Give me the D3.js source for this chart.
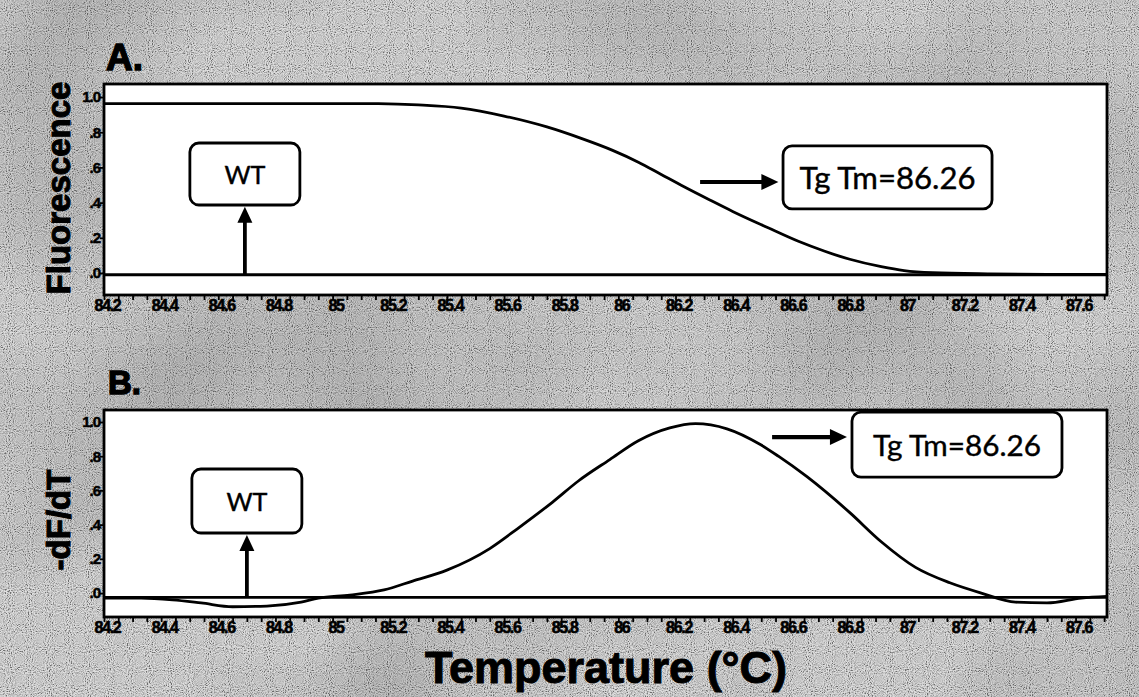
<!DOCTYPE html>
<html>
<head>
<meta charset="utf-8">
<script src="https://cdn.jsdelivr.net/npm/d3@7"></script>
<style>
  html, body { margin: 0; padding: 0; background: #c4c4c4; }
  svg { display: block; }
</style>
</head>
<body>
<svg id="chart" width="1139" height="697"></svg>
<script>
// ---- Melt curve data ----
// Panel A: normalised fluorescence vs temperature
const tempA = [84.2, 84.6, 85.0, 85.16, 85.3, 85.45, 85.6, 85.75, 85.87, 85.98, 86.07, 86.15, 86.23, 86.32, 86.4, 86.52, 86.63, 86.72, 86.81, 86.92, 87.0, 87.1, 87.3, 87.5, 87.71];
const fluorTg = [0.963, 0.963, 0.963, 0.962, 0.955, 0.937, 0.892, 0.83, 0.765, 0.697, 0.63, 0.56, 0.49, 0.415, 0.35, 0.26, 0.18, 0.125, 0.078, 0.036, 0.014, 0.002, -0.005, -0.008, -0.008];
const fluorWT = [-0.01, -0.01, -0.01, -0.01, -0.01, -0.01, -0.01, -0.01, -0.01, -0.01, -0.01, -0.01, -0.01, -0.01, -0.01, -0.01, -0.01, -0.01, -0.01, -0.01, -0.01, -0.01, -0.01, -0.01, -0.01];

// Panel B: negative derivative -dF/dT vs temperature
const tempB = [84.2, 84.33, 84.44, 84.54, 84.65, 84.77, 84.89, 84.95, 85.06, 85.18, 85.28, 85.4, 85.55, 85.65, 85.77, 85.86, 85.97, 86.07, 86.18, 86.27, 86.38, 86.5, 86.56, 86.66, 86.81, 86.92, 87.04, 87.16, 87.27, 87.39, 87.5, 87.62, 87.71];
const derivTg = [-0.03, -0.03, -0.04, -0.058, -0.08, -0.076, -0.053, -0.03, -0.012, 0.018, 0.07, 0.134, 0.26, 0.38, 0.532, 0.655, 0.78, 0.89, 0.965, 0.99, 0.96, 0.865, 0.8, 0.68, 0.47, 0.3, 0.15, 0.06, 0.0, -0.053, -0.058, -0.03, -0.02];
const derivWT = [-0.025, -0.025, -0.025, -0.025, -0.025, -0.025, -0.025, -0.025, -0.025, -0.025, -0.025, -0.025, -0.025, -0.025, -0.025, -0.025, -0.025, -0.025, -0.025, -0.025, -0.025, -0.025, -0.025, -0.025, -0.025, -0.025, -0.025, -0.025, -0.025, -0.025, -0.025, -0.025, -0.025];

// Axis ticks
const xTickLabels = ["84.2", "84.4", "84.6", "84.8", "85", "85.2", "85.4", "85.6", "85.8", "86", "86.2", "86.4", "86.6", "86.8", "87", "87.2", "87.4", "87.6"];
const yTickValues = [0, 0.2, 0.4, 0.6, 0.8, 1.0];
const yTickLabels = [".0", ".2", ".4", ".6", ".8", "1.0"];

// Annotation text
const wtLabel = "WT";
const tgLabel = "Tg Tm=86.26";
const xTitle = "Temperature (°C)";

const svg = d3.select("#chart");
const W = 1139, H = 697;

// ---- grainy grey backdrop ----
const defs = svg.append("defs");
const grain = defs.append("filter").attr("id", "grain").attr("x", 0).attr("y", 0).attr("width", "100%").attr("height", "100%");
grain.append("feTurbulence").attr("type", "fractalNoise").attr("baseFrequency", 0.95).attr("numOctaves", 1).attr("seed", 7).attr("result", "n");
grain.append("feColorMatrix").attr("type", "saturate").attr("values", 0).attr("in", "n").attr("result", "g");
const ct = grain.append("feComponentTransfer").attr("in", "g");
["feFuncR", "feFuncG", "feFuncB"].forEach(f =>
  ct.append(f).attr("type", "linear").attr("slope", 3.6).attr("intercept", -1.25));
ct.append("feFuncA").attr("type", "linear").attr("slope", 0).attr("intercept", 1);

const patch = defs.append("filter").attr("id", "patch").attr("x", 0).attr("y", 0).attr("width", "100%").attr("height", "100%");
patch.append("feTurbulence").attr("type", "fractalNoise").attr("baseFrequency", 0.004).attr("numOctaves", 2).attr("seed", 11).attr("result", "p");
patch.append("feColorMatrix").attr("type", "matrix").attr("in", "p")
  .attr("values", "0 0 0 0 0  0 0 0 0 0  0 0 0 0 0  1.0 0 0 0 -0.4");

svg.append("rect").attr("width", W).attr("height", H).attr("fill", "#c9c9c9");
svg.append("rect").attr("width", W).attr("height", H).attr("filter", "url(#grain)").attr("opacity", 0.45);
svg.append("rect").attr("width", W).attr("height", H).attr("filter", "url(#patch)").attr("opacity", 0.3);

// ---- shared x scale ----
const x = d3.scaleLinear().domain([84.2, 87.71]).range([104, 1107]);

const panels = [
  {
    id: "A", letter: "A.", letterX: 106, letterY: 70, letterSize: 37,
    top: 84, bottom: 295, yDomain: [-0.125, 1.074],
    temps: tempA, tg: fluorTg, wt: fluorWT,
    yTitle: "Fluorescence", yTitleY: 188,
    wtBox: { t: 84.693, v: 0.5625, w: 110, h: 62 },
    wtArrow: { t: 84.693, from: -0.01, to: 0.376 },
    tgBox: { t: 86.942, v: 0.543, w: 209, h: 63 },
    tgArrow: { from: 86.286, to: 86.56, v: 0.517 }
  },
  {
    id: "B", letter: "B.", letterX: 108, letterY: 394, letterSize: 33,
    top: 410, bottom: 617, yDomain: [-0.14, 1.07],
    temps: tempB, tg: derivTg, wt: derivWT,
    yTitle: "-dF/dT", yTitleY: 520,
    wtBox: { t: 84.70, v: 0.538, w: 110, h: 64 },
    wtArrow: { t: 84.70, from: -0.025, to: 0.34 },
    tgBox: { t: 87.185, v: 0.868, w: 210, h: 65 },
    tgArrow: { from: 86.538, to: 86.80, v: 0.912 }
  }
];

// fits text to a given width by adjusting the font size
function fitText(sel, width) {
  const len = sel.node().getComputedTextLength();
  const fs = parseFloat(sel.attr("font-size"));
  sel.attr("font-size", fs * width / len);
}

function arrowPath(x1, y1, x2, y2, headLen, headW) {
  const dx = x2 - x1, dy = y2 - y1, L = Math.hypot(dx, dy);
  const ux = dx / L, uy = dy / L, px = -uy, py = ux;
  const bx = x2 - ux * headLen, by = y2 - uy * headLen;
  return `M${bx + px * headW / 2},${by + py * headW / 2}L${x2},${y2}L${bx - px * headW / 2},${by - py * headW / 2}Z`;
}

const sansBold = "Liberation Sans, Arial, sans-serif";

panels.forEach(p => {
  const y = d3.scaleLinear().domain(p.yDomain).range([p.bottom, p.top]);
  const g = svg.append("g");

  // panel letter
  g.append("text").attr("x", p.letterX).attr("y", p.letterY)
    .attr("font-family", sansBold).attr("font-weight", "bold")
    .attr("font-size", p.letterSize).attr("fill", "#000").attr("stroke", "#000").attr("stroke-width", 1.4)
    .text(p.letter);

  // plot area
  g.append("rect").attr("x", x.range()[0]).attr("y", p.top)
    .attr("width", x.range()[1] - x.range()[0]).attr("height", p.bottom - p.top)
    .attr("fill", "#fff").attr("stroke", "#000").attr("stroke-width", 2.8);

  // x axis: ticks every 0.05, labels every 0.2
  const xAxis = d3.axisBottom(x)
    .tickValues(d3.range(84.2, 87.701, 0.05).map(v => +v.toFixed(2)))
    .tickSize(5).tickSizeOuter(0)
    .tickFormat(() => "");
  const xa = g.append("g").attr("transform", `translate(0,${p.bottom})`).call(xAxis);
  xa.select(".domain").remove();
  xa.selectAll("line").attr("stroke", "#000").attr("stroke-width", 1.8);

  const xLab = d3.axisBottom(x)
    .tickValues(xTickLabels.map(Number)).tickSize(0)
    .tickFormat((d, i) => xTickLabels[i]);
  const xl = g.append("g").attr("transform", `translate(3,${p.bottom - 1})`).call(xLab);
  xl.select(".domain").remove();
  xl.selectAll("text").attr("font-family", sansBold)
    .attr("font-weight", "bold").attr("font-size", 16).attr("letter-spacing", -1.3)
    .attr("fill", "#000").attr("stroke", "#000").attr("stroke-width", 0.6).attr("dy", "0.9em");

  // y axis
  const yAxis = d3.axisLeft(y).tickValues(yTickValues).tickSize(4).tickSizeOuter(0)
    .tickFormat((d, i) => yTickLabels[i]);
  const ya = g.append("g").attr("transform", `translate(${x.range()[0]},0)`).call(yAxis);
  ya.select(".domain").remove();
  ya.selectAll("line").attr("stroke", "#000").attr("stroke-width", 1.8);
  ya.selectAll("text").attr("font-family", sansBold)
    .attr("font-weight", "bold").attr("font-size", 15).attr("letter-spacing", -1)
    .attr("fill", "#000").attr("stroke", "#000").attr("stroke-width", 0.5).attr("x", -4);

  // y title
  g.append("text")
    .attr("transform", `translate(70,${p.yTitleY}) rotate(-90)`)
    .attr("text-anchor", "middle")
    .attr("font-family", sansBold).attr("font-weight", "bold")
    .attr("font-size", 33).attr("fill", "#000").attr("stroke", "#000").attr("stroke-width", 1)
    .text(p.yTitle);

  // curves
  const line = d3.line().x(d => x(d[0])).y(d => y(d[1])).curve(d3.curveMonotoneX);
  const clip = "clip" + p.id;
  defs.append("clipPath").attr("id", clip).append("rect")
    .attr("x", x.range()[0]).attr("y", p.top).attr("width", x.range()[1] - x.range()[0]).attr("height", p.bottom - p.top);
  const curves = g.append("g").attr("clip-path", `url(#${clip})`);
  curves.append("path").datum(p.temps.map((t, i) => [t, p.wt[i]]))
    .attr("d", line).attr("fill", "none").attr("stroke", "#000").attr("stroke-width", 2.8);
  curves.append("path").datum(p.temps.map((t, i) => [t, p.tg[i]]))
    .attr("d", line).attr("fill", "none").attr("stroke", "#000").attr("stroke-width", 2.8);

  // WT arrow and box
  const ax = x(p.wtArrow.t);
  const ay1 = y(p.wtArrow.from), ay2 = y(p.wtArrow.to);
  g.append("line").attr("x1", ax).attr("x2", ax).attr("y1", ay1).attr("y2", ay2 + 12)
    .attr("stroke", "#000").attr("stroke-width", 3.8);
  g.append("path").attr("d", arrowPath(ax, ay1, ax, ay2, 16, 15)).attr("fill", "#000");

  function box(b, label) {
    const cx = x(b.t), cy = y(b.v);
    g.append("rect").attr("x", cx - b.w / 2).attr("y", cy - b.h / 2)
      .attr("width", b.w).attr("height", b.h).attr("rx", 9).attr("ry", 9)
      .attr("fill", "#fff").attr("stroke", "#000").attr("stroke-width", 2.8);
    return g.append("text").attr("x", cx).attr("y", cy).attr("text-anchor", "middle")
      .attr("dominant-baseline", "central")
      .attr("font-family", "Lato, 'Open Sans', sans-serif").attr("font-size", 24)
      .attr("fill", "#000").attr("stroke", "#000").attr("stroke-width", 0.4).text(label);
  }
  const wtText = box(p.wtBox, wtLabel);
  fitText(wtText, 41);
  const tgText = box(p.tgBox, tgLabel);
  fitText(tgText, p.id === "A" ? 176 : 168);

  // Tg arrow
  const tx1 = x(p.tgArrow.from), tx2 = x(p.tgArrow.to), ty = y(p.tgArrow.v);
  g.append("line").attr("x1", tx1).attr("x2", tx2 - 12).attr("y1", ty).attr("y2", ty)
    .attr("stroke", "#000").attr("stroke-width", 4.2);
  g.append("path").attr("d", arrowPath(tx1, ty, tx2, ty, 17, 16)).attr("fill", "#000");
});

// x title
svg.append("text").attr("x", 606).attr("y", 683).attr("text-anchor", "middle")
  .attr("font-family", sansBold).attr("font-weight", "bold")
  .attr("font-size", 45).attr("fill", "#000").attr("stroke", "#000").attr("stroke-width", 1)
  .text(xTitle);
</script>
</body>
</html>
